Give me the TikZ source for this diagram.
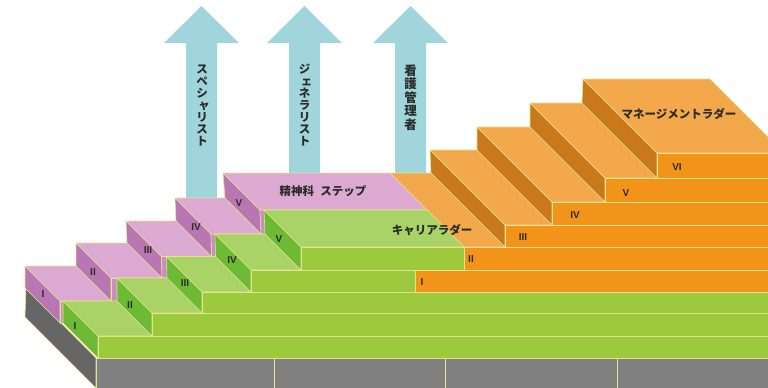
\documentclass[tikz,border=0pt]{standalone}
\usepackage{fontspec}
\setmainfont{Liberation Sans}
\newfontfamily\jp{Noto Sans CJK JP}
\definecolor{pinkTop}{HTML}{DBA9D1}
\definecolor{pinkSide}{HTML}{B876B3}
\definecolor{pinkFront}{HTML}{C88EC3}
\definecolor{greenTop}{HTML}{A9D366}
\definecolor{greenSide}{HTML}{6DBA34}
\definecolor{greenFront}{HTML}{9DCA3C}
\definecolor{orangeTop}{HTML}{F4A84C}
\definecolor{orangeSide}{HTML}{C9791B}
\definecolor{orangeFront}{HTML}{F3941A}
\definecolor{grayFront}{HTML}{808080}
\definecolor{graySide}{HTML}{666666}
\definecolor{arrowC}{HTML}{A1D5DC}
\definecolor{edgeC}{HTML}{E6E38E}
\definecolor{txt}{HTML}{2B2B2B}
\newcommand\deflev[3]{\expandafter\def\csname stF#1\endcsname{#2}\expandafter\def\csname stD#1\endcsname{#3}}
\deflev{g}{388}{35.5}
\deflev{0}{358}{35}
\deflev{1}{336}{35}
\deflev{2}{313}{35}
\deflev{3}{292}{35.5}
\deflev{4}{270}{36}
\deflev{5}{247}{37}
\deflev{6}{225}{37.5}
\deflev{7}{202}{37.5}
\deflev{8}{178}{37.5}
\deflev{9}{153}{37}
\makeatletter
\def\st@parse#1/#2/#3\relax{\def\st@X{#1}\def\st@k{#2}\def\st@Z{#3}}
\tikzdeclarecoordinatesystem{st}{%
  \st@parse#1\relax
  \edef\st@d{\csname stD\st@k\endcsname}%
  \edef\st@f{\csname stF\st@k\endcsname}%
  \pgfmathsetmacro\st@x{\st@X-(2-\st@Z)*\st@d}%
  \pgfmathsetmacro\st@y{\st@f-(2-\st@Z)*\st@d}%
  \pgfpointxy{\st@x}{\st@y}%
}
\makeatother
% side face: X, level a, level b, z1, z2, style
\newcommand\sidef[6]{\filldraw[#6] (st cs:#1/#2/#4) -- (st cs:#1/#3/#4) -- (st cs:#1/#3/#5) -- (st cs:#1/#2/#5) -- cycle;}
% top face: level, x1, x2, z1, z2, style
\newcommand\topf[6]{\filldraw[#6] (st cs:#2/#1/#4) -- (st cs:#3/#1/#4) -- (st cs:#3/#1/#5) -- (st cs:#2/#1/#5) -- cycle;}
% front face: z, x1, x2, level a, level b, style
\newcommand\frontf[6]{\filldraw[#6] (st cs:#2/#4/#1) -- (st cs:#3/#4/#1) -- (st cs:#3/#5/#1) -- (st cs:#2/#5/#1) -- cycle;}
\newcommand\uparr[1]{\fill[arrowC] ({#1-15.5},200) -- ({#1-15.5},43) -- ({#1-37.5},43) -- (#1,6) -- ({#1+37.5},43) -- ({#1+15.5},43) -- ({#1+15.5},200) -- cycle;}
\tikzset{
  stface/.style={draw=edgeC, line width=0.6pt, line join=round},
  ptop/.style={stface, fill=pinkTop},
  pside/.style={stface, fill=pinkSide},
  pfront/.style={stface, fill=pinkFront},
  gtop/.style={stface, fill=greenTop},
  gside/.style={stface, fill=greenSide},
  gfront/.style={stface, fill=greenFront},
  otop/.style={stface, fill=orangeTop},
  oside/.style={stface, fill=orangeSide},
  ofront/.style={stface, fill=orangeFront},
  bfront/.style={stface, fill=grayFront},
  bside/.style={stface, fill=graySide},
  num/.style={font=\bfseries\fontsize{10}{10}\selectfont, text=txt, inner sep=0pt},
  jplabel/.style={font=\jp\bfseries\fontsize{11.5}{12}\selectfont, text=txt, inner sep=0pt},
  vlabel/.style={font=\jp\bfseries\fontsize{11.5}{12}\selectfont, align=center, text=txt, inner sep=0pt},
  vkanji/.style={font=\jp\bfseries\fontsize{12.5}{13.5}\selectfont, align=center, text=txt, inner sep=0pt}
}
\begin{document}
\begin{tikzpicture}[x=1pt, y=-1pt]
\useasboundingbox (0,0) rectangle (768,388);
\clip (0,0) rectangle (768,388);
% arrows
\uparr{201.5}
\uparr{304.5}
\uparr{410.5}
\node[vlabel] (spec) at (202,105) {ス\\ペ\\シ\\\hspace*{0.35em}ャ\\リ\\ス\\ト};
\node[vlabel] (gene) at (304.5,105.5) {ジ\\\hspace*{0.35em}ェ\\ネ\\ラ\\リ\\ス\\ト};
\node[vkanji] (mgr) at (410.5,97.5) {看\\護\\管\\理\\者};
% gray base
\sidef{96}{g}{0}{0}{2}{bside}
\frontf{2}{96}{800}{g}{0}{bfront}
\draw[stface] (st cs:274/g/2) -- (st cs:274/0/2);
\draw[stface] (st cs:445/g/2) -- (st cs:445/0/2);
\draw[stface] (st cs:617/g/2) -- (st cs:617/0/2);
% orange steps
\sidef{415}{3}{4}{0}{2}{oside}\topf{4}{415}{784}{0}{2}{otop}\frontf{2}{415}{800}{3}{4}{ofront}
\sidef{464}{4}{5}{0}{2}{oside}\topf{5}{464}{784}{0}{2}{otop}\frontf{2}{464}{800}{4}{5}{ofront}
\sidef{505}{5}{6}{0}{2}{oside}\topf{6}{505}{784}{0}{2}{otop}\frontf{2}{505}{800}{5}{6}{ofront}
\sidef{552}{6}{7}{0}{2}{oside}\topf{7}{552}{784}{0}{2}{otop}\frontf{2}{552}{800}{6}{7}{ofront}
\sidef{605}{7}{8}{0}{2}{oside}\topf{8}{605}{784}{0}{2}{otop}\frontf{2}{605}{800}{7}{8}{ofront}
\sidef{657}{8}{9}{0}{2}{oside}\topf{9}{657}{784}{0}{2}{otop}\frontf{2}{657}{800}{8}{9}{ofront}
% pink steps
\sidef{95}{0}{1}{0}{1}{pside}\topf{1}{95}{146}{0}{1}{ptop}\frontf{1}{95}{104}{0}{1}{pfront}
\sidef{146}{1}{2}{0}{1}{pside}\topf{2}{146}{197}{0}{1}{ptop}\frontf{1}{146}{158}{1}{2}{pfront}
\sidef{197}{2}{3}{0}{1}{pside}\topf{3}{197}{247}{0}{1}{ptop}\frontf{1}{197}{208}{2}{3}{pfront}
\sidef{247}{3}{4}{0}{1}{pside}\topf{4}{247}{297}{0}{1}{ptop}\frontf{1}{247}{257}{3}{4}{pfront}
\sidef{297}{4}{5}{0}{1}{pside}\topf{5}{297}{464}{0}{1}{ptop}\frontf{1}{297}{307}{4}{5}{pfront}
% green steps
\sidef{98}{0}{1}{1}{2}{gside}\topf{1}{98}{152}{1}{2}{gtop}\frontf{2}{98}{800}{0}{1}{gfront}
\sidef{152}{1}{2}{1}{2}{gside}\topf{2}{152}{202}{1}{2}{gtop}\frontf{2}{152}{800}{1}{2}{gfront}
\sidef{202}{2}{3}{1}{2}{gside}\topf{3}{202}{251}{1}{2}{gtop}\frontf{2}{202}{800}{2}{3}{gfront}
\sidef{251}{3}{4}{1}{2}{gside}\topf{4}{251}{301}{1}{2}{gtop}\frontf{2}{251}{415}{3}{4}{gfront}
\sidef{301}{4}{5}{1}{2}{gside}\topf{5}{301}{464}{1}{2}{gtop}\frontf{2}{301}{464}{4}{5}{gfront}
% numerals
\node[num] (p1) at (43,294) {I};
\node[num] (p2) at (93,272) {II};
\node[num] (p3) at (148,250) {III};
\node[num] (p4) at (196,227) {IV};
\node[num] (p5) at (239,203) {V};
\node[num] (g1) at (75,326) {I};
\node[num] (g2) at (130,305) {II};
\node[num] (g3) at (185,283) {III};
\node[num] (g4) at (232,260) {IV};
\node[num] (g5) at (279,239) {V};
\node[num] (o1) at (422,282) {I};
\node[num] (o2) at (471,259) {II};
\node[num] (o3) at (523,237) {III};
\node[num] (o4) at (575,215) {IV};
\node[num] (o5) at (626,193) {V};
\node[num] (o6) at (677,167) {VI};
% labels
\node[jplabel] (psy) at (323,191) {精神科\hspace{0.55em}ステップ};
\node[jplabel] (career) at (432,230) {キャリアラダー};
\node[jplabel] (manage) at (679,114) {マネージメントラダー};
\end{tikzpicture}
\end{document}
